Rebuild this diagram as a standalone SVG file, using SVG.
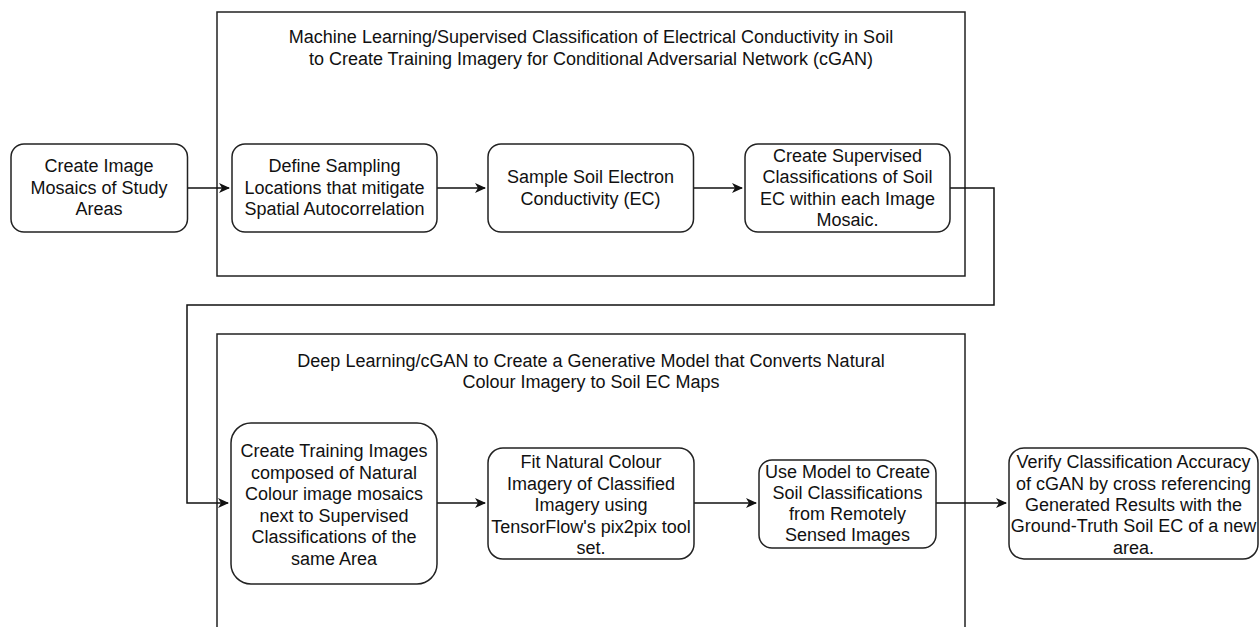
<svg xmlns="http://www.w3.org/2000/svg" width="1260" height="627" viewBox="0 0 1260 627">
<style>
.box{fill:#fff;stroke:#222;stroke-width:1.5}
.cont{fill:none;stroke:#222;stroke-width:1.5}
.edge{fill:none;stroke:#111;stroke-width:1.5}
text{font-family:"Liberation Sans",Arial,sans-serif;font-size:18px;fill:#111;text-anchor:middle}
</style>
<defs>
<marker id="arr" markerWidth="12" markerHeight="10" refX="10" refY="5" orient="auto" markerUnits="userSpaceOnUse">
<path d="M0,0 L11,5 L0,10 L3,5 Z" fill="#111"/>
</marker>
</defs>
<rect width="1260" height="627" fill="#fff"/>
<g id="group-top">
<rect class="cont" x="217" y="12" width="748" height="264"/>
<text x="591" y="43">Machine Learning/Supervised Classification of Electrical Conductivity in Soil</text>
<text x="591" y="65">to Create Training Imagery for Conditional Adversarial Network (cGAN)</text>
</g>
<g id="group-bottom">
<rect class="cont" x="217" y="334" width="748" height="320"/>
<text x="591" y="367">Deep Learning/cGAN to Create a Generative Model that Converts Natural</text>
<text x="591" y="388">Colour Imagery to Soil EC Maps</text>
</g>
<g id="connectors">
<path class="edge" d="M187.5,188 H229" marker-end="url(#arr)"/>
<path class="edge" d="M437,188 H485" marker-end="url(#arr)"/>
<path class="edge" d="M693.5,188 H742" marker-end="url(#arr)"/>
<path class="edge" d="M950,188 H994 V305 H187 V503 H228" marker-end="url(#arr)"/>
<path class="edge" d="M437,503 H485" marker-end="url(#arr)"/>
<path class="edge" d="M694,503 H756" marker-end="url(#arr)"/>
<path class="edge" d="M936,503 H1006" marker-end="url(#arr)"/>
</g>
<g id="node-mosaics">
<rect class="box" x="11" y="144" width="176.5" height="88" rx="13"/>
<text x="99" y="172">Create Image</text>
<text x="99" y="194">Mosaics of Study</text>
<text x="99" y="215">Areas</text>
</g>
<g id="node-sampling">
<rect class="box" x="232" y="144" width="205" height="88" rx="13"/>
<text x="334.5" y="172">Define Sampling</text>
<text x="334.5" y="194">Locations that mitigate</text>
<text x="334.5" y="215">Spatial Autocorrelation</text>
</g>
<g id="node-sample-ec">
<rect class="box" x="488" y="144" width="205.5" height="88" rx="13"/>
<text x="590.5" y="183">Sample Soil Electron</text>
<text x="590.5" y="205">Conductivity (EC)</text>
</g>
<g id="node-supervised">
<rect class="box" x="745" y="144" width="205" height="88" rx="13"/>
<text x="847.5" y="162">Create Supervised</text>
<text x="847.5" y="183">Classifications of Soil</text>
<text x="847.5" y="204.5">EC within each Image</text>
<text x="847.5" y="225.5">Mosaic.</text>
</g>
<g id="node-training">
<rect class="box" x="231" y="423" width="206" height="161" rx="20"/>
<text x="334" y="457">Create Training Images</text>
<text x="334" y="478.5">composed of Natural</text>
<text x="334" y="500">Colour image mosaics</text>
<text x="334" y="521.5">next to Supervised</text>
<text x="334" y="543">Classifications of the</text>
<text x="334" y="564.5">same Area</text>
</g>
<g id="node-fit">
<rect class="box" x="488" y="448" width="206" height="111" rx="15"/>
<text x="591" y="468">Fit Natural Colour</text>
<text x="591" y="489.5">Imagery of Classified</text>
<text x="591" y="511">Imagery using</text>
<text x="591" y="532.5">TensorFlow's pix2pix tool</text>
<text x="591" y="554">set.</text>
</g>
<g id="node-use-model">
<rect class="box" x="759" y="460" width="177" height="88" rx="13"/>
<text x="847.5" y="478">Use Model to Create</text>
<text x="847.5" y="499">Soil Classifications</text>
<text x="847.5" y="520">from Remotely</text>
<text x="847.5" y="541">Sensed Images</text>
</g>
<g id="node-verify">
<rect class="box" x="1009" y="448" width="249" height="111" rx="15"/>
<text x="1133.5" y="468">Verify Classification Accuracy</text>
<text x="1133.5" y="489.5">of cGAN by cross referencing</text>
<text x="1133.5" y="511">Generated Results with the</text>
<text x="1133.5" y="532">Ground-Truth Soil EC of a new</text>
<text x="1133.5" y="553.5">area.</text>
</g>
</svg>
